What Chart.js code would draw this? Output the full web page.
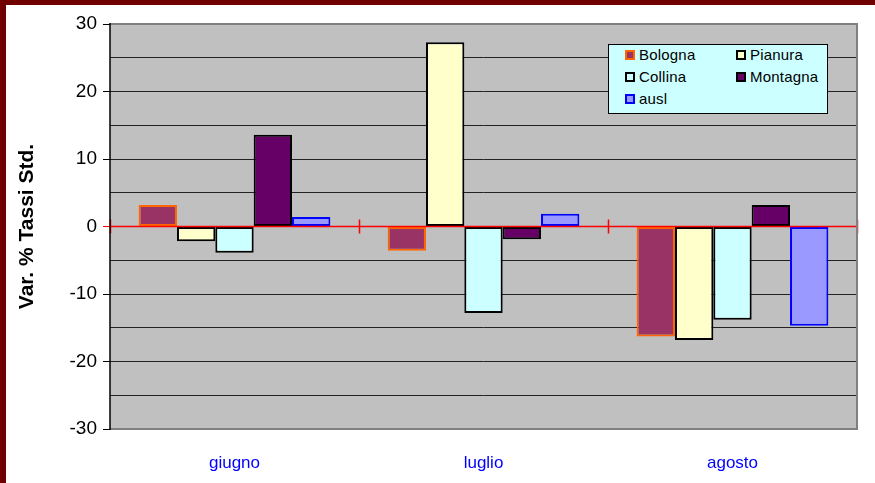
<!DOCTYPE html>
<html>
<head>
<meta charset="utf-8">
<script src="https://cdn.jsdelivr.net/npm/chart.js@4/dist/chart.umd.min.js"></script>
<style>
  html, body { margin: 0; padding: 0; background: #ffffff; }
  #wrap { position: relative; width: 875px; height: 483px; overflow: hidden; }
  #c { position: absolute; left: 0; top: 0; }
  .bar-top { position: absolute; left: 0; top: 0; width: 875px; height: 5px; background: #700000; }
  .bar-left { position: absolute; left: 0; top: 0; width: 6px; height: 483px; background: #700000; }
  #legend {
    position: absolute; left: 608px; top: 44px; width: 218px; height: 68px;
    background: #ccffff; border: 1px solid #000; box-sizing: content-box;
    font-family: Arial, "Liberation Sans", sans-serif; font-size: 15px; color: #000;
  }
  .li { position: absolute; height: 18px; line-height: 18px; white-space: nowrap; }
  .sw { position: absolute; left: 0; top: 4px; width: 6px; height: 6px; border: 2px solid #000; }
  .lt { position: absolute; left: 14px; top: 0; letter-spacing: 0.2px; }
</style>
</head>
<body>
<div id="wrap">
  <canvas id="c" width="875" height="483"></canvas>
  <div class="bar-top"></div>
  <div class="bar-left"></div>
  <div id="legend"></div>
</div>
<script>
// ---- data ----
const categories = ['giugno', 'luglio', 'agosto'];
const seriesNames = ['Bologna', 'Pianura', 'Collina', 'Montagna', 'ausl'];
const bologna  = [3.2, -3.6, -16.3];
const pianura  = [-2.2, 27.3, -16.8];
const collina  = [-3.9, -12.8, -13.8];
const montagna = [13.6, -1.9, 3.2];
const ausl     = [1.4, 1.9, -14.7];
const yTicks = [-30, -20, -10, 0, 10, 20, 30];
const yTitle = 'Var. % Tassi Std.';

// ---- styles ----
const fills   = ['#993366', '#ffffcc', '#ccffff', '#660066', '#9999ff'];
const borders = ['#ff6600', '#000000', '#000000', '#000000', '#0000ff'];
const values  = [bologna, pianura, collina, montagna, ausl];

const datasets = seriesNames.map((n, i) => ({
  label: n,
  data: values[i],
  backgroundColor: fills[i],
  borderColor: borders[i],
  borderWidth: 2,
  borderSkipped: false,
  categoryPercentage: 0.77,
  barPercentage: 1.0
}));

// HTML legend built from series
const legendEl = document.getElementById('legend');
const legendPos = [[16, 1], [127, 1], [16, 23], [127, 23], [16, 45]];
seriesNames.forEach((n, i) => {
  const d = document.createElement('div');
  d.className = 'li';
  d.style.left = legendPos[i][0] + 'px';
  d.style.top = legendPos[i][1] + 'px';
  const sw = document.createElement('span');
  sw.className = 'sw';
  sw.style.background = fills[i];
  sw.style.borderColor = borders[i];
  const t = document.createElement('span');
  t.className = 'lt';
  t.textContent = n;
  d.appendChild(sw); d.appendChild(t);
  legendEl.appendChild(d);
});

const plotDecor = {
  id: 'plotDecor',
  beforeDraw(chart) {
    const { ctx, chartArea: a } = chart;
    ctx.save();
    ctx.fillStyle = '#c0c0c0';
    ctx.fillRect(a.left, a.top, a.right - a.left, a.bottom - a.top);
    ctx.restore();
  },
  afterDatasetsDraw(chart) {
    const { ctx, chartArea: a, scales } = chart;
    const y0 = scales.y.getPixelForValue(0);
    ctx.save();
    ctx.strokeStyle = '#ff0000';
    ctx.lineWidth = 1.5;
    ctx.beginPath();
    ctx.moveTo(a.left, y0); ctx.lineTo(a.right, y0);
    ctx.stroke();
    const n = categories.length;
    const w = (a.right - a.left) / n;
    for (let i = 0; i <= n; i++) {
      const x = Math.round(a.left + i * w) + 0.5;
      ctx.beginPath();
      ctx.moveTo(x, y0 - 7); ctx.lineTo(x, y0 + 7);
      ctx.stroke();
    }
    ctx.strokeStyle = '#808080';
    ctx.lineWidth = 2;
    ctx.beginPath();
    ctx.moveTo(a.left, a.top); ctx.lineTo(a.right, a.top);
    ctx.lineTo(a.right, a.bottom); ctx.lineTo(a.left, a.bottom);
    ctx.stroke();
    ctx.strokeStyle = '#000000';
    ctx.lineWidth = 1.5;
    ctx.beginPath();
    ctx.moveTo(a.left, a.top - 1); ctx.lineTo(a.left, a.bottom + 1);
    ctx.stroke();
    ctx.restore();
  }
};

new Chart(document.getElementById('c'), {
  type: 'bar',
  data: { labels: categories, datasets },
  plugins: [plotDecor],
  options: {
    responsive: false,
    animation: false,
    layout: { padding: { left: 12, top: 24, right: 18, bottom: 0 } },
    plugins: { legend: { display: false }, tooltip: { enabled: false } },
    scales: {
      x: {
        grid: { display: false, drawTicks: false },
        border: { display: false },
        ticks: {
          color: '#0000ff',
          font: { family: 'Arial, "Liberation Sans", sans-serif', size: 17 },
          padding: 24
        },
        afterFit(s) { s.height = 54; }
      },
      y: {
        min: -30, max: 30,
        afterBuildTicks(s) {
          const t = [];
          for (let v = -30; v <= 30; v += 5) t.push({ value: v });
          s.ticks = t;
        },
        ticks: {
          color: '#000000',
          font: { family: 'Arial, "Liberation Sans", sans-serif', size: 19 },
          padding: 6,
          autoSkip: false,
          callback: (v) => (yTicks.includes(v) ? String(v) : '')
        },
        grid: {
          color: (c) => (c.tick && c.tick.value === 0 ? '#ff0000' : '#222222'),
          lineWidth: 1,
          tickLength: 7,
          tickColor: (c) => {
            if (!c.tick) return 'transparent';
            if (c.tick.value === 0) return '#ff0000';
            return yTicks.includes(c.tick.value) ? '#000000' : 'transparent';
          }
        },
        border: { display: false },
        title: {
          display: true,
          text: yTitle,
          color: '#000000',
          font: { family: 'Arial, "Liberation Sans", sans-serif', size: 21, weight: 'bold' },
          padding: { top: 3, bottom: 0 }
        },
        afterFit(s) { s.width = 98; }
      }
    }
  }
});
</script>
</body>
</html>
